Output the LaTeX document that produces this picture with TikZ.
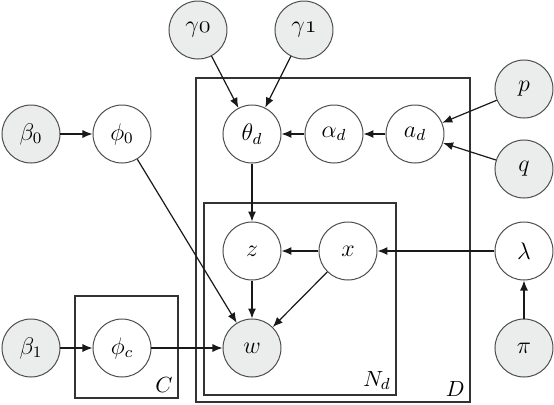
\documentclass[tikz,border=0pt]{standalone}
\usepackage{tikz}
\usetikzlibrary{arrows.meta, positioning}
\definecolor{pgmfill}{HTML}{EBEDED}
\definecolor{pgmline}{HTML}{4D4D4D}
\tikzset{
  latent/.style={circle, draw=pgmline, line width=0.5pt, fill=white,
    minimum size=29pt, inner sep=0pt, font=\fontsize{12}{14}\selectfont},
  obs/.style={latent, fill=pgmfill},
  edge/.style={-{Latex[length=5pt,width=4pt]}, line width=0.6pt, black!90},
  plate/.style={draw=black!80, line width=0.65pt},
  platelabel/.style={anchor=south east, inner sep=2.5pt, font=\fontsize{10.95}{13}\selectfont}
}

\begin{document}
\begin{tikzpicture}[x=0.5pt, y=-0.5pt]
\useasboundingbox (0,0) rectangle (554,404);
% plates
\draw[plate] (196,78) rectangle (470,402);
\draw[plate] (204,203) rectangle (396,395);
\draw[plate] (75,296) rectangle (178,398);
\node[platelabel] (labD) at (470,402) {$D$};
\node[platelabel] (labN) at (396,395) {$N_d$};
\node[platelabel] (labC) at (178,398) {$C$};
% hyperparameters
\node[obs] (gamma0) at (198,30) {$\gamma\mathnormal{0}$};
\node[obs] (gamma1) at (304,30) {$\gamma\mathnormal{1}$};
\node[obs] (beta0) at (31,134) {$\beta_0$};
\node[obs] (beta1) at (31,348) {$\beta_1$};
\node[obs] (p) at (524,89) {$p$};
\node[obs] (q) at (524,169) {$q$};
\node[obs] (pi) at (524,348) {$\pi$};
% latent variables
\node[latent] (phi0) at (122,134) {$\phi_0$};
\node[latent] (phic) at (122,348) {$\phi_c$};
\node[latent] (theta) at (252,134) {$\theta_d$};
\node[latent] (alpha) at (334,134) {$\alpha_d$};
\node[latent] (ad) at (415,134) {$a_d$};
\node[latent] (z) at (252,251) {$z$};
\node[latent] (x) at (348,251) {$x$};
\node[latent] (lambda) at (524,251) {$\lambda$};
\node[obs] (w) at (252,348) {$w$};
% edges
\draw[edge] (beta0) -- (phi0);
\draw[edge] (beta1) -- (phic);
\draw[edge] (gamma0) -- (theta);
\draw[edge] (gamma1) -- (theta);
\draw[edge] (alpha) -- (theta);
\draw[edge] (ad) -- (alpha);
\draw[edge] (p) -- (ad);
\draw[edge] (q) -- (ad);
\draw[edge] (theta) -- (z);
\draw[edge] (x) -- (z);
\draw[edge] (z) -- (w);
\draw[edge] (x) -- (w);
\draw[edge] (phi0) -- (w);
\draw[edge] (phic) -- (w);
\draw[edge] (lambda) -- (x);
\draw[edge] (pi) -- (lambda);
\end{tikzpicture}
\end{document}
